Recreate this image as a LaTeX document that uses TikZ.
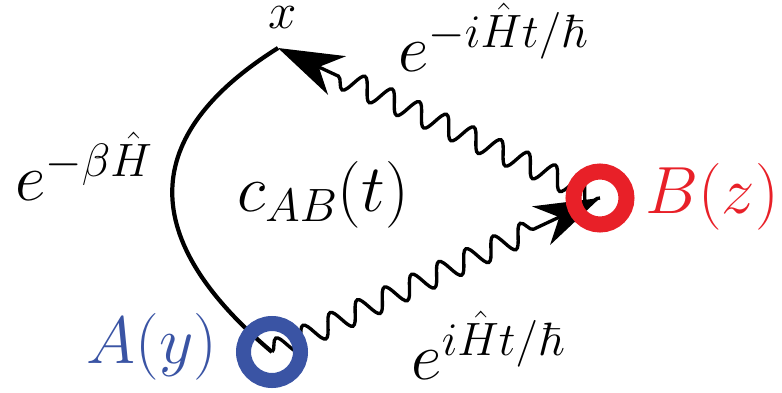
\RequirePackage{fix-cm}
\documentclass[tikz,border=0pt]{standalone}
\usepackage{amsmath, amssymb}
\usepackage{tikz}
\usetikzlibrary{arrows.meta, decorations.pathmorphing}
\usepackage{tkz-euclide}
\definecolor{ablue}{RGB}{58,84,164}
\definecolor{bred}{RGB}{232,32,40}

\begin{document}
\begin{tikzpicture}[wave/.style={decorate, decoration={snake, amplitude=2.2mm, segment length=6mm, post length=12.5mm}, line width=1.9pt},
                    arrowtip/.style={-{Stealth[length=13mm, width=8.5mm, inset=4mm]}},
                    lbl/.style={inner sep=0pt, font=\fontsize{38}{45}\selectfont},
                    small lbl/.style={inner sep=0pt, font=\fontsize{29}{35}\selectfont}]
                \useasboundingbox (0,0) rectangle (15.64,7.84);
                \tkzDefPoints{5.44/0.80/A, 12.00/3.88/B, 5.56/6.88/X}
                \draw[line width=2.4pt] (X) .. controls (2.76,5.12) and (2.76,3.06) .. (A);
                \draw[wave, arrowtip] (A) -- (B);
                \draw[wave, arrowtip] (B) -- (X);
                \draw[ablue, line width=3mm] (A) circle (5.7mm);
                \draw[bred, line width=3.2mm] (B) circle (5.3mm);
                \node[small lbl] (lx) at (5.66,7.48) {$x$};
                \node[lbl] (lbeta) at (1.68,4.52) {$e^{-\beta\hat{H}}$};
                \node[lbl] (lc) at (6.46,3.94) {$c_{AB}(t)$};
                \node[lbl] (lminus) at (9.86,7.10) {$e^{-i\hat{H}t/\hbar}$};
                \node[lbl] (lplus) at (9.76,0.94) {$e^{i\hat{H}t/\hbar}$};
                \node[lbl, ablue] (la) at (3.04,0.90) {$A(y)$};
                \node[lbl, bred] (lb) at (14.24,3.90) {$B(z)$};
            \end{tikzpicture}
\end{document}
